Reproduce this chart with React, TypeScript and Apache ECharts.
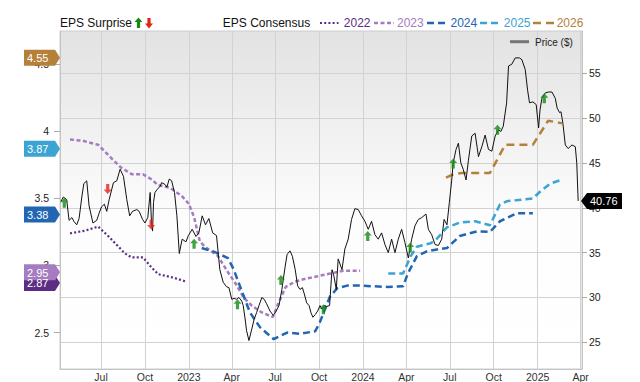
import React, { useEffect, useRef } from "react";
import * as echarts from "echarts";

const FONT = "'Liberation Sans', Arial, Helvetica, sans-serif";

// ---------- Price ($) ----------
const priceDates = [
  "2022-04-08","2022-04-13","2022-04-20","2022-04-25","2022-05-01","2022-05-05","2022-05-11","2022-05-16","2022-05-22","2022-05-26",
  "2022-06-01","2022-06-06","2022-06-14","2022-06-22","2022-06-27","2022-07-02","2022-07-08","2022-07-13","2022-07-18","2022-07-27",
  "2022-08-03","2022-08-10","2022-08-17","2022-08-24","2022-08-30","2022-09-05","2022-09-14","2022-09-19","2022-09-26","2022-10-01",
  "2022-10-07","2022-10-12","2022-10-15","2022-10-17","2022-10-19","2022-10-22","2022-10-26","2022-11-02","2022-11-05","2022-11-12",
  "2022-11-16","2022-11-21","2022-11-26","2022-12-02","2022-12-07","2022-12-12","2022-12-18","2022-12-26","2022-12-31","2023-01-08",
  "2023-01-16","2023-01-22","2023-01-29","2023-02-05","2023-02-12","2023-02-20","2023-02-28","2023-03-07","2023-03-14","2023-03-21",
  "2023-03-26","2023-04-01","2023-04-06","2023-04-11","2023-04-16","2023-04-22","2023-04-25","2023-04-29","2023-05-02","2023-05-07",
  "2023-05-13","2023-05-18","2023-05-23","2023-05-28","2023-06-03","2023-06-08","2023-06-13","2023-06-20","2023-06-27","2023-07-02",
  "2023-07-09","2023-07-15","2023-07-22","2023-07-26","2023-08-01","2023-08-06","2023-08-12","2023-08-17","2023-08-22","2023-08-27",
  "2023-08-31","2023-09-05","2023-09-10","2023-09-14","2023-09-18","2023-09-23","2023-09-28","2023-10-03","2023-10-07","2023-10-12",
  "2023-10-17","2023-10-23","2023-10-28","2023-11-01","2023-11-06","2023-11-10","2023-11-18","2023-11-24","2023-12-01","2023-12-08",
  "2023-12-15","2023-12-22","2023-12-29","2024-01-05","2024-01-12","2024-01-19","2024-01-26","2024-02-02","2024-02-09","2024-02-16",
  "2024-02-23","2024-03-01","2024-03-08","2024-03-15","2024-03-22","2024-03-29","2024-04-05","2024-04-12","2024-04-19","2024-04-26",
  "2024-05-03","2024-05-12","2024-05-17","2024-05-24","2024-05-31","2024-06-07","2024-06-14","2024-06-19","2024-06-25","2024-06-30",
  "2024-07-05","2024-07-08","2024-07-14","2024-07-19","2024-07-24","2024-07-29","2024-08-04","2024-08-09","2024-08-16","2024-08-23",
  "2024-08-30","2024-09-06","2024-09-13","2024-09-20","2024-09-27","2024-10-04","2024-10-11","2024-10-16","2024-10-21","2024-10-28",
  "2024-11-01","2024-11-08","2024-11-15","2024-11-24","2024-11-29","2024-12-06","2024-12-11","2024-12-15","2024-12-22","2024-12-29",
  "2025-01-03","2025-01-06","2025-01-10","2025-01-17","2025-01-24","2025-01-31","2025-02-07","2025-02-11","2025-02-16","2025-02-19",
  "2025-02-23","2025-02-28","2025-03-06","2025-03-14","2025-03-21","2025-03-24","2025-03-27",
];
const priceValues = [
  40.7,41.2,40.9,38.6,38.9,38.5,38.1,38.8,41.3,42.7,
  43.0,40.2,38.3,38.6,39.4,40.1,40.4,39.6,40.9,42.8,
  43.0,44.3,43.5,40.9,39.1,39.6,39.8,39.6,38.7,38.3,
  38.9,41.7,38.1,37.4,40.6,41.7,42.0,42.4,42.8,42.6,
  42.3,43.2,43.0,41.7,39.1,34.9,36.5,36.2,36.9,37.6,
  36.8,37.2,39.1,38.1,38.8,37.2,36.9,33.1,31.7,31.2,
  31.1,29.8,29.9,29.8,30.0,29.6,29.1,27.6,26.3,25.2,
  26.5,27.6,28.3,29.1,30.0,29.8,29.3,28.5,28.0,28.4,
  29.1,30.9,33.5,34.8,35.2,34.6,33.1,31.3,30.9,31.1,
  30.4,29.4,29.1,28.3,27.8,28.1,28.5,29.1,28.7,29.1,
  29.0,29.1,33.1,32.4,30.9,34.3,33.1,35.4,36.5,38.7,
  39.9,39.8,39.1,38.5,37.6,38.5,37.0,36.5,37.2,35.9,
  35.0,36.5,35.0,36.5,37.6,36.1,34.4,36.5,38.0,38.7,
  38.9,39.3,37.6,37.0,35.9,35.8,36.5,38.7,38.1,40.6,
  43.1,45.0,46.5,47.2,45.0,44.3,43.1,45.3,48.0,48.3,
  45.7,46.8,48.1,46.5,46.3,48.0,48.7,48.5,49.1,51.7,
  55.8,56.0,56.7,56.7,56.5,55.4,53.1,51.7,51.8,51.5,
  48.9,50.9,52.2,52.8,52.9,52.9,52.2,51.1,50.6,50.7,
  49.4,47.0,46.6,47.0,46.8,45.0,40.76,
];

// ---------- EPS consensus by fiscal year ----------
const eps2022Dates = ["2022-04-27","2022-05-29","2022-06-25","2022-07-16","2022-08-20","2022-09-03","2022-09-27","2022-10-15","2022-10-29","2022-11-29","2022-12-28"];
const eps2022Values = [3.24,3.26,3.29,3.22,3.09,3.06,3.06,2.985,2.935,2.91,2.878];

const eps2023Dates = ["2022-04-27","2022-05-24","2022-06-25","2022-07-20","2022-08-12","2022-09-04","2022-09-27","2022-10-16","2022-10-28","2022-11-22","2022-12-17","2023-01-01","2023-01-12","2023-01-24","2023-02-04","2023-03-03","2023-03-24","2023-04-10","2023-04-26","2023-05-13","2023-06-03","2023-06-26","2023-07-09","2023-07-23","2023-08-12","2023-09-01","2023-09-28","2023-10-24","2023-11-20","2023-12-26"];
const eps2023Values = [3.94,3.93,3.90,3.81,3.73,3.68,3.68,3.64,3.60,3.58,3.52,3.46,3.36,3.18,3.14,3.07,2.95,2.86,2.76,2.70,2.65,2.615,2.73,2.84,2.88,2.90,2.92,2.94,2.96,2.96];

const eps2024Dates = ["2023-01-28","2023-02-25","2023-03-24","2023-04-05","2023-04-22","2023-05-09","2023-05-30","2023-06-28","2023-07-26","2023-08-22","2023-09-23","2023-10-03","2023-10-14","2023-10-24","2023-11-08","2023-11-29","2023-12-26","2024-01-23","2024-02-21","2024-03-25","2024-04-04","2024-04-23","2024-05-14","2024-06-04","2024-06-25","2024-07-22","2024-08-27","2024-09-23","2024-10-14","2024-11-19","2024-12-22"];
const eps2024Values = [3.13,3.10,3.055,2.97,2.81,2.65,2.54,2.45,2.50,2.49,2.51,2.58,2.68,2.77,2.83,2.85,2.85,2.845,2.84,2.845,2.94,3.07,3.106,3.12,3.13,3.22,3.255,3.25,3.33,3.39,3.39];

const eps2025Dates = ["2024-02-23","2024-03-25","2024-04-10","2024-04-23","2024-05-22","2024-06-04","2024-06-25","2024-07-22","2024-08-23","2024-09-23","2024-10-14","2024-10-29","2024-12-22","2025-01-06","2025-01-27","2025-02-21"];
const eps2025Values = [2.94,2.94,3.07,3.14,3.166,3.20,3.285,3.32,3.33,3.30,3.455,3.48,3.50,3.55,3.61,3.64];

const eps2026Dates = ["2024-06-23","2024-07-08","2024-07-26","2024-09-23","2024-10-25","2024-12-22","2025-01-23","2025-02-21"];
const eps2026Values = [3.655,3.68,3.69,3.69,3.90,3.90,4.08,4.06];

const consensusYears = ["2022", "2023", "2024", "2025", "2026"];
const consensusLatest = [2.87, 2.95, 3.38, 3.87, 4.55];
const lastPrice = 40.76;

// ---------- EPS surprises ----------
const surpriseDates = ["2022-04-15","2022-07-15","2022-10-14","2023-01-12","2023-04-13","2023-07-13","2023-10-10","2024-01-11","2024-04-09","2024-07-08","2024-10-09","2025-01-15"];
const surpriseValues = [40.56,42.1,38.14,36.0,29.26,31.96,28.7,36.84,35.56,44.92,48.7,52.2];
const surpriseDirs = ["up","down","down","up","up","up","up","up","up","up","up","up"];

// ---------- Axes ----------
const xRange = ["2022-04-06", "2025-04-04"];
const xTickDates = ["2022-07-01","2022-10-01","2023-01-01","2023-04-01","2023-07-01","2023-10-01","2024-01-01","2024-04-01","2024-07-01","2024-10-01","2025-01-01","2025-04-01"];
const xTickLabels = ["Jul","Oct","2023","Apr","Jul","Oct","2024","Apr","Jul","Oct","2025","Apr"];
const leftTicks = [2.5, 3, 3.5, 4, 4.5];
const rightTicks = [25, 30, 35, 40, 45, 50, 55];

// ---------- Styles ----------
const yearColors = ["#5c2d82", "#a57cbf", "#2266b2", "#3ba4d2", "#b5813a"];
const yearDash = [[2, 2.2], [4, 2.5], [7, 4], [7, 4], [8, 5]];
const yearWidth = [2.2, 2.5, 2.5, 2.5, 2.5];
const GREEN = "#138a13";
const RED = "#e2231a";
const UP_PATH = "path://M4,0 L8,4.5 L5.6,4.5 L5.6,10 L2.4,10 L2.4,4.5 L0,4.5 Z";
const DOWN_PATH = "path://M2.4,0 L5.6,0 L5.6,5.5 L8,5.5 L4,10 L0,5.5 L2.4,5.5 Z";

const toTs = (s: string) => new Date(s + "T00:00:00Z").getTime();
const zip = (d: string[], v: number[]) => d.map((s, i) => [toTs(s), v[i]]);

export default function App() {
  const ref = useRef<HTMLDivElement>(null);

  useEffect(() => {
    const el = ref.current;
    if (!el) return;
    const chart = echarts.init(el, null, { renderer: "svg" });
    const xTicks = xTickDates.map(toTs);
    const labelFor = (v: number) => {
      const i = xTicks.findIndex((t) => Math.abs(t - v) < 86400000);
      return i >= 0 ? xTickLabels[i] : "";
    };

    const epsSets = [
      [eps2022Dates, eps2022Values],
      [eps2023Dates, eps2023Values],
      [eps2024Dates, eps2024Values],
      [eps2025Dates, eps2025Values],
      [eps2026Dates, eps2026Values],
    ] as [string[], number[]][];

    const epsSeries = epsSets.map(([d, v], i) => ({
      type: "line",
      name: consensusYears[i],
      yAxisIndex: 0,
      data: zip(d, v),
      showSymbol: false,
      symbol: "none",
      silent: true,
      z: 3,
      lineStyle: { color: yearColors[i], width: yearWidth[i], type: yearDash[i], cap: "butt" },
    }));

    const option: any = {
      animation: false,
      backgroundColor: "#ffffff",
      textStyle: { fontFamily: FONT },
      grid: {
        left: 60,
        right: 58,
        top: 31,
        bottom: 12,
        show: true,
        borderColor: "#cccccc",
        borderWidth: 1,
        backgroundColor: new echarts.graphic.LinearGradient(0, 0, 0, 1, [
          { offset: 0, color: "#e2e2e2" },
          { offset: 0.55, color: "#fdfdfd" },
          { offset: 1, color: "#ffffff" },
        ]),
      },
      xAxis: {
        type: "value",
        min: toTs(xRange[0]),
        max: toTs(xRange[1]),
        axisLine: { show: true, lineStyle: { color: "#c4c4c4", width: 1 } },
        axisTick: { show: false, customValues: xTicks },
        axisLabel: {
          customValues: xTicks,
          formatter: (v: number) => labelFor(v),
          fontSize: 10.5,
          fontFamily: FONT,
          color: "#333",
          margin: 2,
          hideOverlap: false,
        },
        splitLine: { show: true, lineStyle: { color: "#d2d2d2", width: 1 } },
      },
      yAxis: [
        {
          type: "value",
          position: "left",
          min: 2.228,
          max: 4.749,
          axisLine: { show: true, lineStyle: { color: "#c4c4c4" } },
          axisTick: { show: true, length: 6, customValues: leftTicks, lineStyle: { color: "#aaaaaa" } },
          axisLabel: {
            customValues: leftTicks,
            formatter: (v: number) => String(v),
            fontSize: 10.5,
            fontFamily: FONT,
            color: "#222",
            margin: 11,
          },
          splitLine: { show: false },
        },
        {
          type: "value",
          position: "right",
          min: 22.03,
          max: 59.7,
          axisLine: { show: true, lineStyle: { color: "#c4c4c4" } },
          axisTick: { show: true, length: 5, customValues: rightTicks, lineStyle: { color: "#aaaaaa" } },
          axisLabel: {
            customValues: rightTicks,
            formatter: (v: number) => String(v),
            fontSize: 10.5,
            fontFamily: FONT,
            color: "#222",
            margin: 7,
          },
          splitLine: { show: true, lineStyle: { color: "#d2d2d2", width: 1 } },
        },
      ],
      series: [
        ...epsSeries,
        {
          type: "line",
          name: "Price ($)",
          yAxisIndex: 1,
          data: zip(priceDates, priceValues),
          showSymbol: false,
          symbol: "none",
          silent: true,
          z: 4,
          lineStyle: { color: "#111111", width: 1 },
        },
        {
          type: "scatter",
          name: "EPS Surprise",
          yAxisIndex: 1,
          silent: true,
          z: 6,
          data: surpriseDates.map((d, i) => ({
            value: [toTs(d), surpriseValues[i]],
            symbol: surpriseDirs[i] === "up" ? UP_PATH : DOWN_PATH,
            itemStyle: { color: surpriseDirs[i] === "up" ? GREEN : RED },
          })),
          symbolSize: [8, 10],
          symbolKeepAspect: false,
        },
      ],
    };
    chart.setOption(option);

    const yL = (v: number) => chart.convertToPixel({ yAxisIndex: 0 } as any, v) as unknown as number;
    const yR = (v: number) => chart.convertToPixel({ yAxisIndex: 1 } as any, v) as unknown as number;

    const txt = (text: string, x: number, y: number, fill: string, size: number, z = 20) => ({
      type: "text",
      z,
      style: {
        text,
        x,
        y,
        fill,
        font: `${size}px ${FONT}`,
        textVerticalAlign: "middle",
        verticalAlign: "middle",
      },
    });
    const arrow = (cx: number, cy: number, up: boolean, color: string) => ({
      type: "polygon",
      z: 20,
      shape: {
        points: up
          ? [[cx, cy - 5.5], [cx + 4, cy - 1], [cx + 1.6, cy - 1], [cx + 1.6, cy + 5], [cx - 1.6, cy + 5], [cx - 1.6, cy - 1], [cx - 4, cy - 1]]
          : [[cx - 1.6, cy - 5], [cx + 1.6, cy - 5], [cx + 1.6, cy + 0.5], [cx + 4, cy + 0.5], [cx, cy + 5.5], [cx - 4, cy + 0.5], [cx - 1.6, cy + 0.5]],
      },
      style: { fill: color },
    });

    const graphics: any[] = [];
    const LY = 23;
    graphics.push(txt("EPS Surprise", 60, LY, "#111", 12));
    graphics.push(arrow(138.5, LY, true, GREEN));
    graphics.push(arrow(149, LY, false, RED));
    graphics.push(txt("EPS Consensus", 222.8, LY, "#111", 12));
    const legLine = [[320, 338.5], [374, 394], [427, 447], [480, 498.5], [533, 554]];
    const legText = [343.8, 397, 450.5, 503.8, 556.7];
    consensusYears.forEach((yr, i) => {
      graphics.push({
        type: "line",
        z: 20,
        shape: { x1: legLine[i][0], y1: LY, x2: legLine[i][1], y2: LY },
        style: { stroke: yearColors[i], lineWidth: yearWidth[i], lineDash: yearDash[i] },
      });
      graphics.push(txt(yr, legText[i], LY, yearColors[i], 12));
    });
    graphics.push({
      type: "line",
      z: 20,
      shape: { x1: 510, y1: 41.7, x2: 529, y2: 41.7 },
      style: { stroke: "#777", lineWidth: 3 },
    });
    graphics.push(txt("Price ($)", 535, 42, "#222", 10));

    const order = consensusLatest.map((v, i) => i).sort((a, b) => consensusLatest[a] - consensusLatest[b]);
    order.forEach((i) => {
      const y = yL(consensusLatest[i]);
      graphics.push({
        type: "polygon",
        z: 30,
        shape: { points: [[24, y - 8], [55, y - 8], [60, y], [55, y + 8], [24, y + 8]] },
        style: { fill: yearColors[i] },
      });
      graphics.push(txt(consensusLatest[i].toFixed(2), 27, y + 0.5, "#fff", 11, 31));
    });

    const py = yR(lastPrice);
    graphics.push({
      type: "polygon",
      z: 30,
      shape: { points: [[581, py], [587, py - 8], [622, py - 8], [622, py + 8], [587, py + 8]] },
      style: { fill: "#000" },
    });
    graphics.push(txt(lastPrice.toFixed(2), 590, py + 0.5, "#fff", 11, 31));

    chart.setOption({ graphic: graphics });

    return () => {
      chart.dispose();
    };
  }, []);

  return <div ref={ref} style={{ position: "absolute", left: 0, top: 0, width: 640, height: 382 }} />;
}
